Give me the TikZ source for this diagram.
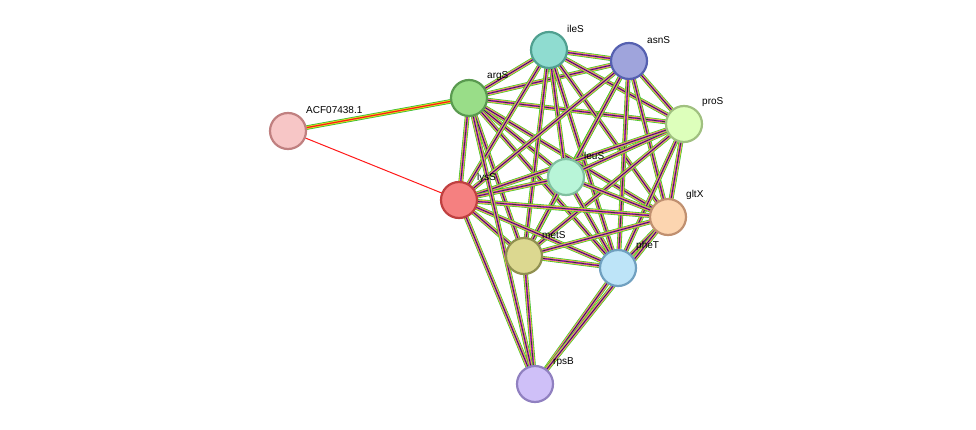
\documentclass[tikz,border=0pt]{standalone}
\usepackage{fontspec}
\setmainfont{Liberation Sans}
\begin{document}
\begin{tikzpicture}[x=1pt,y=-1pt,
  prot/.style={circle,draw,line width=2.2pt,minimum size=36pt,inner sep=0pt},
  lab/.style={anchor=south west,font=\fontsize{10}{11}\selectfont,inner sep=0pt}]
\useasboundingbox (0,0) rectangle (976,430);
\definecolor{eg}{HTML}{33BB33}\definecolor{ey}{HTML}{DDDD22}
\definecolor{em}{HTML}{DD33DD}\definecolor{eb}{HTML}{3355DD}
\newcommand{\ed}[2]{%
 \draw[eg,line width=4.8pt] (#1) -- (#2);
 \draw[ey,line width=3.6pt] (#1) -- (#2);
 \draw[em,line width=2.2pt] (#1) -- (#2);
 \draw[black!80,line width=0.8pt] (#1) -- (#2);}
\coordinate (cACF) at (288,131);
\coordinate (cargS) at (469,98);
\coordinate (cileS) at (549,50);
\coordinate (casnS) at (629,61);
\coordinate (cproS) at (684,124);
\coordinate (cleuS) at (566,177);
\coordinate (clysS) at (459,200);
\coordinate (cgltX) at (668,217);
\coordinate (cmetS) at (524,256);
\coordinate (cpheT) at (618,268);
\coordinate (crpsB) at (535,384);
\foreach \a/\b in {argS/ileS,argS/asnS,argS/proS,argS/leuS,argS/lysS,argS/gltX,argS/metS,argS/pheT,
 ileS/asnS,ileS/proS,ileS/leuS,ileS/lysS,ileS/gltX,ileS/metS,ileS/pheT,
 asnS/proS,asnS/leuS,asnS/lysS,asnS/gltX,asnS/metS,asnS/pheT,
 proS/leuS,proS/lysS,proS/gltX,proS/metS,proS/pheT,
 leuS/lysS,leuS/gltX,leuS/metS,leuS/pheT,
 lysS/gltX,lysS/metS,lysS/pheT,gltX/metS,gltX/pheT,metS/pheT,
 rpsB/lysS,rpsB/metS,rpsB/pheT,rpsB/gltX,rpsB/argS}{\ed{c\a}{c\b}}
\draw[eg,line width=4.5pt] (cACF) -- (cargS);
\draw[ey,line width=3pt] (cACF) -- (cargS);
\draw[red!90,line width=1.2pt] (cACF) -- (cargS);
\draw[red!90,line width=1pt] (cACF) -- (clysS);
\node[prot,fill={rgb,255:red,247;green,198;blue,198},draw={rgb,255:red,192;green,128;blue,128}] (ACF) at (cACF) {};
\node[prot,fill={rgb,255:red,153;green,221;blue,136},draw={rgb,255:red,90;green,154;blue,80}] (argS) at (cargS) {};
\node[prot,fill={rgb,255:red,143;green,220;blue,208},draw={rgb,255:red,80;green,160;blue,144}] (ileS) at (cileS) {};
\node[prot,fill={rgb,255:red,159;green,164;blue,220},draw={rgb,255:red,85;green,96;blue,176}] (asnS) at (casnS) {};
\node[prot,fill={rgb,255:red,221;green,255;blue,187},draw={rgb,255:red,160;green,192;blue,128}] (proS) at (cproS) {};
\node[prot,fill={rgb,255:red,184;green,245;blue,216},draw={rgb,255:red,128;green,192;blue,160}] (leuS) at (cleuS) {};
\node[prot,fill={rgb,255:red,245;green,128;blue,128},draw={rgb,255:red,192;green,64;blue,64}] (lysS) at (clysS) {};
\node[prot,fill={rgb,255:red,252;green,213;blue,176},draw={rgb,255:red,192;green,144;blue,112}] (gltX) at (cgltX) {};
\node[prot,fill={rgb,255:red,220;green,216;blue,144},draw={rgb,255:red,144;green,144;blue,80}] (metS) at (cmetS) {};
\node[prot,fill={rgb,255:red,189;green,228;blue,248},draw={rgb,255:red,112;green,160;blue,192}] (pheT) at (cpheT) {};
\node[prot,fill={rgb,255:red,207;green,192;blue,248},draw={rgb,255:red,144;green,128;blue,192}] (rpsB) at (crpsB) {};
\foreach \n/\t in {ACF/ACF07438.1,argS/argS,ileS/ileS,asnS/asnS,proS/proS,leuS/leuS,lysS/lysS,gltX/gltX,metS/metS,pheT/pheT,rpsB/rpsB}
 \node[lab] at ([shift={(18,-17)}]c\n) {\t};
\end{tikzpicture}
\end{document}
